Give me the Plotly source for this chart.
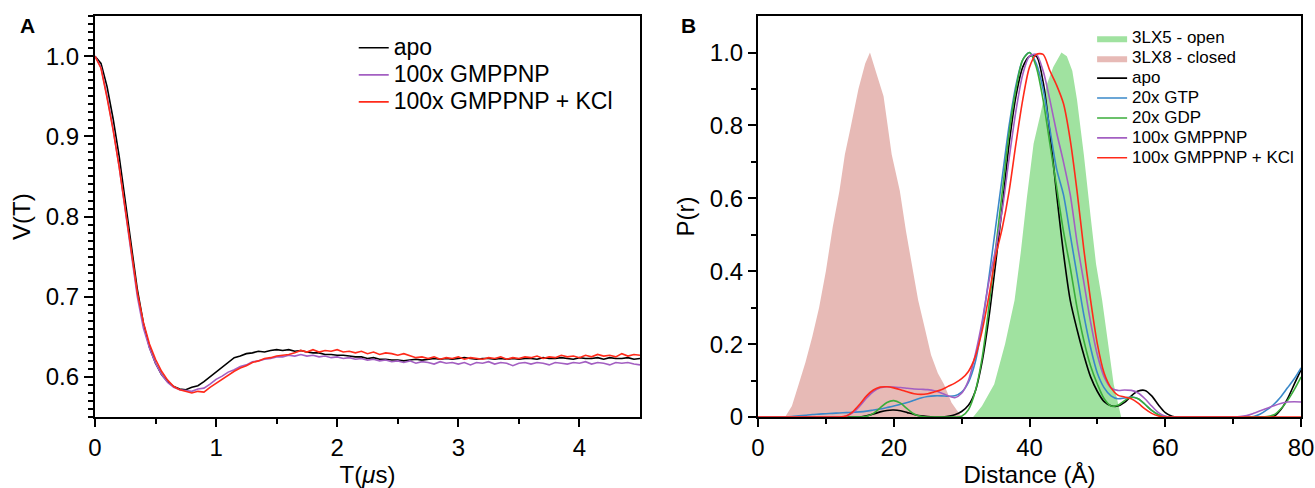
import plotly.graph_objects as go

# ---------------- Panel A data (DEER traces) ----------------
T_us = [round(0.05 * i, 2) for i in range(91)]

V_apo = [1.000, 0.991, 0.962, 0.922, 0.875, 0.820, 0.763, 0.709, 0.667, 0.637,
         0.617, 0.603, 0.594, 0.588, 0.585, 0.584, 0.587, 0.589, 0.594, 0.600,
         0.606, 0.613, 0.619, 0.624, 0.626, 0.629, 0.630, 0.632, 0.631, 0.633,
         0.634, 0.633, 0.634, 0.632, 0.633, 0.631, 0.630, 0.630, 0.628, 0.628,
         0.627, 0.627, 0.626, 0.625, 0.625, 0.623, 0.624, 0.622, 0.622, 0.621,
         0.621, 0.620, 0.621, 0.622, 0.621, 0.622, 0.623, 0.622, 0.623, 0.622,
         0.623, 0.624, 0.623, 0.622, 0.623, 0.623, 0.622, 0.623, 0.622, 0.623,
         0.622, 0.623, 0.623, 0.622, 0.624, 0.623, 0.623, 0.624, 0.623, 0.622,
         0.624, 0.623, 0.623, 0.624, 0.622, 0.624, 0.623, 0.623, 0.624, 0.622,
         0.623]

V_gmppnp = [1.000, 0.986, 0.950, 0.909, 0.862, 0.808, 0.753, 0.700, 0.661, 0.636,
            0.617, 0.603, 0.593, 0.587, 0.584, 0.583, 0.582, 0.585, 0.586, 0.591,
            0.597, 0.601, 0.606, 0.609, 0.613, 0.615, 0.619, 0.620, 0.622, 0.623,
            0.625, 0.625, 0.627, 0.626, 0.628, 0.626, 0.627, 0.625, 0.626, 0.624,
            0.625, 0.623, 0.624, 0.622, 0.623, 0.621, 0.622, 0.620, 0.621, 0.619,
            0.620, 0.618, 0.620, 0.617, 0.619, 0.618, 0.616, 0.619, 0.617, 0.618,
            0.616, 0.618, 0.615, 0.618, 0.617, 0.619, 0.616, 0.618, 0.617, 0.614,
            0.617, 0.618, 0.616, 0.618, 0.617, 0.615, 0.618, 0.617, 0.616, 0.618,
            0.617, 0.619, 0.616, 0.618, 0.617, 0.615, 0.618, 0.617, 0.618, 0.616,
            0.615]

V_gmppnp_kcl = [1.000, 0.985, 0.948, 0.908, 0.862, 0.809, 0.757, 0.705, 0.668, 0.641,
                0.622, 0.607, 0.596, 0.588, 0.584, 0.582, 0.580, 0.582, 0.581, 0.587,
                0.592, 0.597, 0.603, 0.607, 0.611, 0.614, 0.618, 0.620, 0.623, 0.624,
                0.626, 0.627, 0.628, 0.630, 0.633, 0.631, 0.634, 0.631, 0.633, 0.632,
                0.634, 0.631, 0.632, 0.630, 0.632, 0.629, 0.631, 0.628, 0.630, 0.629,
                0.627, 0.629, 0.626, 0.624, 0.625, 0.623, 0.625, 0.622, 0.624, 0.623,
                0.625, 0.622, 0.624, 0.623, 0.622, 0.624, 0.623, 0.625, 0.622, 0.624,
                0.623, 0.625, 0.624, 0.626, 0.623, 0.625, 0.624, 0.627, 0.625, 0.626,
                0.624, 0.627, 0.625, 0.628, 0.626, 0.627, 0.625, 0.629, 0.626, 0.628,
                0.627]

# ---------------- Panel B data (distance distributions) ----------------
R_A = list(range(81))

P_apo = [0]*16 + [0.003, 0.008, 0.014, 0.018, 0.019, 0.017, 0.012, 0.007, 0.003, 0.001,
                  0.0, 0.0, 0.002, 0.006, 0.015, 0.032, 0.07, 0.15, 0.27, 0.42,
                  0.58, 0.75, 0.88, 0.96, 0.99, 0.99, 0.92, 0.78, 0.61, 0.45,
                  0.32, 0.24, 0.17, 0.11, 0.07, 0.042, 0.031, 0.030, 0.040, 0.058,
                  0.071, 0.073, 0.058, 0.033, 0.012, 0.002] + [0]*14 + \
        [0.002, 0.02, 0.05, 0.09, 0.13]

P_gtp = [0]*5 + [0.001, 0.003, 0.005, 0.007, 0.008, 0.009, 0.010, 0.011, 0.012, 0.013,
                 0.014, 0.016, 0.019, 0.022, 0.026, 0.030, 0.035, 0.040, 0.046, 0.052,
                 0.056, 0.058, 0.058, 0.057, 0.058, 0.068, 0.095, 0.15, 0.25, 0.38,
                 0.52, 0.66, 0.80, 0.91, 0.98, 1.0, 0.97, 0.90, 0.79, 0.68,
                 0.61, 0.50, 0.39, 0.28, 0.19, 0.12, 0.08, 0.058, 0.05, 0.052,
                 0.055, 0.05, 0.035, 0.018, 0.006, 0.001] + [0]*12 + \
        [0.001, 0.008, 0.02, 0.035, 0.055, 0.08, 0.105, 0.135]

P_gdp = [0]*16 + [0.002, 0.01, 0.025, 0.04, 0.045, 0.038, 0.022, 0.008, 0.002, 0.0,
                  0.0, 0.0, 0.0, 0.0, 0.002, 0.02, 0.07, 0.16, 0.30, 0.46,
                  0.62, 0.78, 0.90, 0.98, 1.0, 0.96, 0.87, 0.75, 0.63, 0.51,
                  0.41, 0.30, 0.21, 0.14, 0.09, 0.05, 0.03, 0.032, 0.045, 0.054,
                  0.05, 0.035, 0.018, 0.006, 0.001] + [0]*14 + \
        [0.001, 0.006, 0.022, 0.045, 0.075, 0.11]

P_gmppnp = [0]*13 + [0.003, 0.012, 0.03, 0.052, 0.07, 0.08, 0.083, 0.082, 0.081, 0.079,
                     0.077, 0.076, 0.075, 0.072, 0.066, 0.058, 0.053, 0.065, 0.10, 0.17,
                     0.26, 0.37, 0.46, 0.57, 0.71, 0.84, 0.94, 0.99, 0.995, 0.95,
                     0.87, 0.78, 0.70, 0.61, 0.48, 0.37, 0.26, 0.17, 0.11, 0.08,
                     0.073, 0.074, 0.073, 0.066, 0.05, 0.03, 0.012, 0.002] + [0]*10 + \
           [0.001, 0.004, 0.01, 0.017, 0.024, 0.031, 0.037, 0.041, 0.042, 0.041]

P_gmppnp_kcl = [0]*13 + [0.003, 0.015, 0.035, 0.058, 0.074, 0.082, 0.083, 0.08, 0.075, 0.069,
                         0.064, 0.062, 0.064, 0.069, 0.075, 0.084, 0.093, 0.105, 0.125, 0.165,
                         0.235, 0.33, 0.44, 0.52, 0.62, 0.75, 0.87, 0.96, 0.995, 0.995,
                         0.95, 0.91, 0.86, 0.76, 0.62, 0.46, 0.32, 0.20, 0.12, 0.08,
                         0.06, 0.055, 0.05, 0.038, 0.022, 0.01, 0.003] + [0]*21

R_closed = [4.0, 5.0, 6.0, 7.0, 8.0, 9.0, 10.0, 11.0, 12.0, 12.8, 13.6, 14.8, 15.8, 16.5,
            17.5, 18.5, 19.7, 20.9, 21.8, 23.0, 23.6, 24.5, 25.5, 26.5, 27.4, 28.5, 30.0]
P_closed = [0.0, 0.03, 0.09, 0.15, 0.22, 0.30, 0.40, 0.52, 0.62, 0.72, 0.79, 0.90, 0.97, 1.0,
            0.94, 0.88, 0.72, 0.62, 0.51, 0.38, 0.32, 0.25, 0.17, 0.12, 0.09, 0.04, 0.0]

R_open = [31.7, 33.0, 34.8, 36.4, 37.8, 38.7, 39.6, 40.6, 41.6, 42.5, 43.5, 44.7, 45.5,
          46.3, 47.0, 48.0, 49.0, 49.8, 50.7, 51.6, 52.4, 53.5]
P_open = [0.0, 0.03, 0.09, 0.20, 0.32, 0.45, 0.60, 0.75, 0.83, 0.91, 0.96, 1.0, 0.99,
          0.95, 0.87, 0.72, 0.55, 0.42, 0.32, 0.20, 0.09, 0.0]

# ---------------- styling ----------------
FONT = "Liberation Sans, Arial, Helvetica, sans-serif"
C_BLACK = "#000000"
C_PURPLE = "#a35fc2"
C_RED = "#ff2a1a"
C_BLUE = "#3a88c9"
C_GREEN = "#3aad3a"
C_OPEN = "rgba(160,226,160,1)"
C_CLOSED = "rgba(231,186,182,1)"


def lab(text, size):
    return f'<span style="font-size:{size}px">{text}</span>'


fig = go.Figure()

# Panel A
for name, y, c in [("apo", V_apo, C_BLACK),
                   ("100x GMPPNP", V_gmppnp, C_PURPLE),
                   ("100x GMPPNP + KCl", V_gmppnp_kcl, C_RED)]:
    fig.add_trace(go.Scatter(x=T_us, y=y, mode="lines", name=lab(name, 23),
                             line=dict(color=c, width=1.6),
                             xaxis="x", yaxis="y", legend="legend"))

# Panel B fills
fig.add_trace(go.Scatter(x=R_open, y=P_open, mode="lines", name=lab("3LX5 - open", 17),
                         fill="tozeroy", fillcolor=C_OPEN, line=dict(width=0, color=C_OPEN),
                         xaxis="x2", yaxis="y2", legend="legend2"))
fig.add_trace(go.Scatter(x=R_closed, y=P_closed, mode="lines", name=lab("3LX8 - closed", 17),
                         fill="tozeroy", fillcolor=C_CLOSED, line=dict(width=0, color=C_CLOSED),
                         xaxis="x2", yaxis="y2", legend="legend2"))
for name, y, c in [("apo", P_apo, C_BLACK),
                   ("20x GTP", P_gtp, C_BLUE),
                   ("20x GDP", P_gdp, C_GREEN),
                   ("100x GMPPNP", P_gmppnp, C_PURPLE),
                   ("100x GMPPNP + KCl", P_gmppnp_kcl, C_RED)]:
    fig.add_trace(go.Scatter(x=R_A, y=y, mode="lines", name=lab(name, 17),
                             line=dict(color=c, width=1.6, shape="spline", smoothing=0.8),
                             xaxis="x2", yaxis="y2", legend="legend2"))

tickfont = dict(family=FONT, size=24, color="black")
titlefont = dict(family=FONT, size=24, color="black")

common = dict(showline=True, linecolor="black", linewidth=2, mirror=True,
              ticks="outside", tickwidth=2, tickcolor="black", showgrid=False,
              zeroline=False, tickfont=tickfont, automargin=False)

ydom = [0.1455, 0.967]

fig.update_layout(
    width=1315, height=488,
    margin=dict(l=0, r=0, t=0, b=0, pad=0),
    paper_bgcolor="white", plot_bgcolor="white",
    font=dict(family=FONT, color="black"),
    xaxis=dict(domain=[0.0722, 0.4867], range=[0, 4.5], anchor="y",
               tickvals=[0, 1, 2, 3, 4], ticktext=["0", "1", "2", "3", "4"], ticklen=8,
               minor=dict(tickvals=[0.5, 1.5, 2.5, 3.5], ticklen=5, tickwidth=2, tickcolor="black", ticks="outside"),
               title=dict(text="T(<i>μ</i>s)", font=titlefont, standoff=8), **common),
    yaxis=dict(domain=ydom, range=[0.55, 1.05], anchor="x",
               tickvals=[0.6, 0.7, 0.8, 0.9, 1.0], ticktext=["0.6", "0.7", "0.8", "0.9", "1.0"], ticklen=9,
               minor=dict(dtick=0.01, ticklen=5, tickwidth=2, tickcolor="black", ticks="outside"),
               title=dict(text="V(T)", font=titlefont, standoff=8), **common),
    xaxis2=dict(domain=[0.5764, 0.9894], range=[0, 80], anchor="y2",
                tickvals=[0, 20, 40, 60, 80], ticktext=["0", "20", "40", "60", "80"], ticklen=8,
                minor=dict(tickvals=[10, 30, 50, 70], ticklen=5, tickwidth=2, tickcolor="black", ticks="outside"),
                title=dict(text="Distance (Å)", font=titlefont, standoff=8), **common),
    yaxis2=dict(domain=ydom, range=[0, 1.1], anchor="x2",
                tickvals=[0, 0.2, 0.4, 0.6, 0.8, 1.0], ticktext=["0", "0.2", "0.4", "0.6", "0.8", "1.0"], ticklen=8,
                minor=dict(tickvals=[0.1, 0.3, 0.5, 0.7, 0.9], ticklen=5, tickwidth=2, tickcolor="black", ticks="outside"),
                title=dict(text="P(r)", font=titlefont, standoff=8), **common),
    legend=dict(x=0.269, y=0.94, xanchor="left", yanchor="top",
                bgcolor="rgba(0,0,0,0)", font=dict(family=FONT, size=18.5, color="black"),
                itemwidth=30, tracegroupgap=0),
    legend2=dict(x=0.8305, y=0.952, xanchor="left", yanchor="top",
                 bgcolor="rgba(0,0,0,0)", font=dict(family=FONT, size=13, color="black"),
                 itemwidth=30, tracegroupgap=0),
    annotations=[
        dict(text="<b>A</b>", x=0.021, y=0.948, xref="paper", yref="paper",
             xanchor="center", yanchor="middle", showarrow=False,
             font=dict(family=FONT, size=21, color="black")),
        dict(text="<b>B</b>", x=0.5235, y=0.948, xref="paper", yref="paper",
             xanchor="center", yanchor="middle", showarrow=False,
             font=dict(family=FONT, size=21, color="black")),
    ],
)

fig.write_html("out.html", post_script="document.body.style.margin='0';",
               config={"displayModeBar": False})
